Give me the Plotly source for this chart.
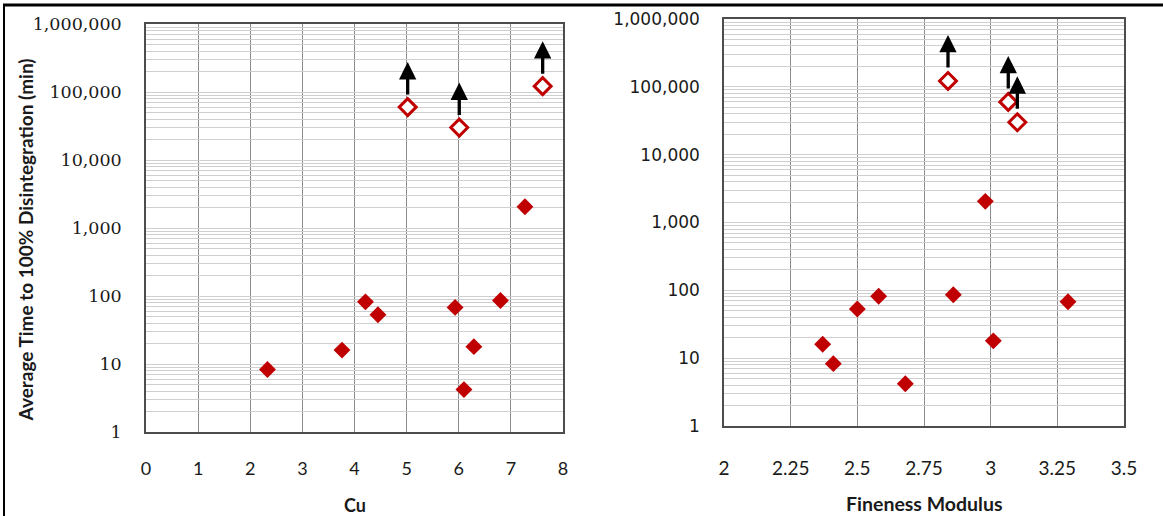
import math
import plotly.graph_objects as go

# ---------------- data ----------------
cu_solid = [2.33, 3.76, 4.21, 4.45, 5.93, 6.29, 6.10, 6.80, 7.27]
fm_solid = [2.41, 2.37, 2.58, 2.50, 3.29, 3.01, 2.68, 2.86, 2.98]
time_solid = [8.3, 16, 82, 53, 68, 18, 4.2, 86, 2050]

cu_open = [5.02, 6.01, 7.61]
fm_open = [3.066, 3.10, 2.84]
time_open = [60000, 30000, 122000]

cu_ticks = [0, 1, 2, 3, 4, 5, 6, 7, 8]
fm_ticks = [2, 2.25, 2.5, 2.75, 3, 3.25, 3.5]
fm_tick_labels = ["2", "2.25", "2.5", "2.75", "3", "3.25", "3.5"]
y_major_labels = ["1", "10", "100", "1,000", "10,000", "100,000", "1,000,000"]

# ---------------- layout constants ----------------
W, H = 1163, 516
RED = "#c00000"

def px_x(p):
    return p / W

def px_y(p):
    return 1 - p / H

y_tickvals, y_ticktext = [], []
for k in range(6):
    for m in range(1, 10):
        y_tickvals.append(m * 10 ** k)
        y_ticktext.append(y_major_labels[k] if m == 1 else "")
y_tickvals.append(10 ** 6)
y_ticktext.append(y_major_labels[6])

fig = go.Figure()

fig.add_trace(go.Scatter(x=cu_solid, y=time_solid, mode="markers", xaxis="x", yaxis="y",
                         marker=dict(symbol="diamond", size=13, color=RED, line=dict(width=0)),
                         hoverinfo="skip"))
fig.add_trace(go.Scatter(x=cu_open, y=time_open, mode="markers", xaxis="x", yaxis="y",
                         marker=dict(symbol="diamond", size=13, color="white",
                                     line=dict(width=3, color=RED)),
                         hoverinfo="skip"))
fig.add_trace(go.Scatter(x=fm_solid, y=time_solid, mode="markers", xaxis="x2", yaxis="y2",
                         marker=dict(symbol="diamond", size=13, color=RED, line=dict(width=0)),
                         hoverinfo="skip"))
fig.add_trace(go.Scatter(x=fm_open, y=time_open, mode="markers", xaxis="x2", yaxis="y2",
                         marker=dict(symbol="diamond", size=13, color="white",
                                     line=dict(width=3, color=RED)),
                         hoverinfo="skip"))

annotations = []
for xv, yv in zip(cu_open, time_open):
    annotations.append(dict(x=xv, y=math.log10(yv), xref="x", yref="y", text="",
                            showarrow=True, arrowhead=2, arrowsize=1.05, arrowwidth=3.3,
                            arrowcolor="black", ax=0, ay=34, yshift=45, standoff=0))
for xv, yv in zip(fm_open, time_open):
    annotations.append(dict(x=xv, y=math.log10(yv), xref="x2", yref="y2", text="",
                            showarrow=True, arrowhead=2, arrowsize=1.05, arrowwidth=3.3,
                            arrowcolor="black", ax=0, ay=34, yshift=46, standoff=0))

annotations.append(dict(x=px_x(25.5), y=px_y(240), xref="paper", yref="paper",
                        text="<b>Average Time to 100% Disintegration (min)</b>", textangle=-90,
                        showarrow=False, xanchor="center", yanchor="middle",
                        font=dict(family="Lato", size=19, color="#1a1a1a")))
annotations.append(dict(x=px_x(355), y=px_y(505), xref="paper", yref="paper",
                        text="<b>Cu</b>", showarrow=False, xanchor="center", yanchor="middle",
                        font=dict(family="Lato", size=18, color="#1a1a1a")))
annotations.append(dict(x=px_x(924), y=px_y(503), xref="paper", yref="paper",
                        text="<b>Fineness Modulus</b>", showarrow=False, xanchor="center",
                        yanchor="middle", font=dict(family="Lato", size=19.5, color="#1a1a1a")))

common_x = dict(showgrid=True, gridcolor="#8c8c8c", gridwidth=1, showline=True, mirror=True,
                linecolor="#4d4d4d", linewidth=1.5, zeroline=False, ticks="", automargin=False)
common_y = dict(type="log", range=[0, 6], tickvals=y_tickvals, ticktext=y_ticktext,
                showgrid=True, gridcolor="#cfcfcf", gridwidth=1, showline=True, mirror=True,
                linecolor="#4d4d4d", linewidth=1.5, zeroline=False, ticks="", automargin=False)

fig.update_layout(
    width=W, height=H,
    margin=dict(l=0, r=0, t=0, b=0, pad=0),
    paper_bgcolor="white", plot_bgcolor="white",
    showlegend=False, hovermode=False,
    xaxis=dict(domain=[px_x(146), px_x(563)], range=[0, 8], tickvals=cu_ticks,
               ticktext=[str(t) for t in cu_ticks], anchor="y",
               tickfont=dict(family="Lato", size=18, color="#1a1a1a"),
               ticklabelstandoff=20, **common_x),
    yaxis=dict(domain=[px_y(432), px_y(24)], anchor="x",
               tickfont=dict(family="DejaVu Serif", size=17.5, color="#1a1a1a"),
               ticklabelstandoff=19, **common_y),
    xaxis2=dict(domain=[px_x(724), px_x(1124)], range=[2, 3.5], tickvals=fm_ticks,
                ticktext=fm_tick_labels, anchor="y2",
                tickfont=dict(family="Lato", size=19, color="#1a1a1a"),
                ticklabelstandoff=24, **common_x),
    yaxis2=dict(domain=[px_y(426), px_y(19)], anchor="x2",
                tickfont=dict(family="DejaVu Sans", size=17, color="#1a1a1a"),
                ticklabelstandoff=19, **common_y),
    annotations=annotations,
    shapes=[
        dict(type="line", xref="paper", yref="paper", x0=px_x(3), x1=1, y0=px_y(5), y1=px_y(5),
             line=dict(color="black", width=3)),
        dict(type="line", xref="paper", yref="paper", x0=px_x(4), x1=px_x(4), y0=0, y1=px_y(4),
             line=dict(color="black", width=2)),
    ],
)

fig.write_html("out.html", config={"displayModeBar": False},
               post_script="document.body.style.margin='0';document.body.style.overflow='hidden';")
